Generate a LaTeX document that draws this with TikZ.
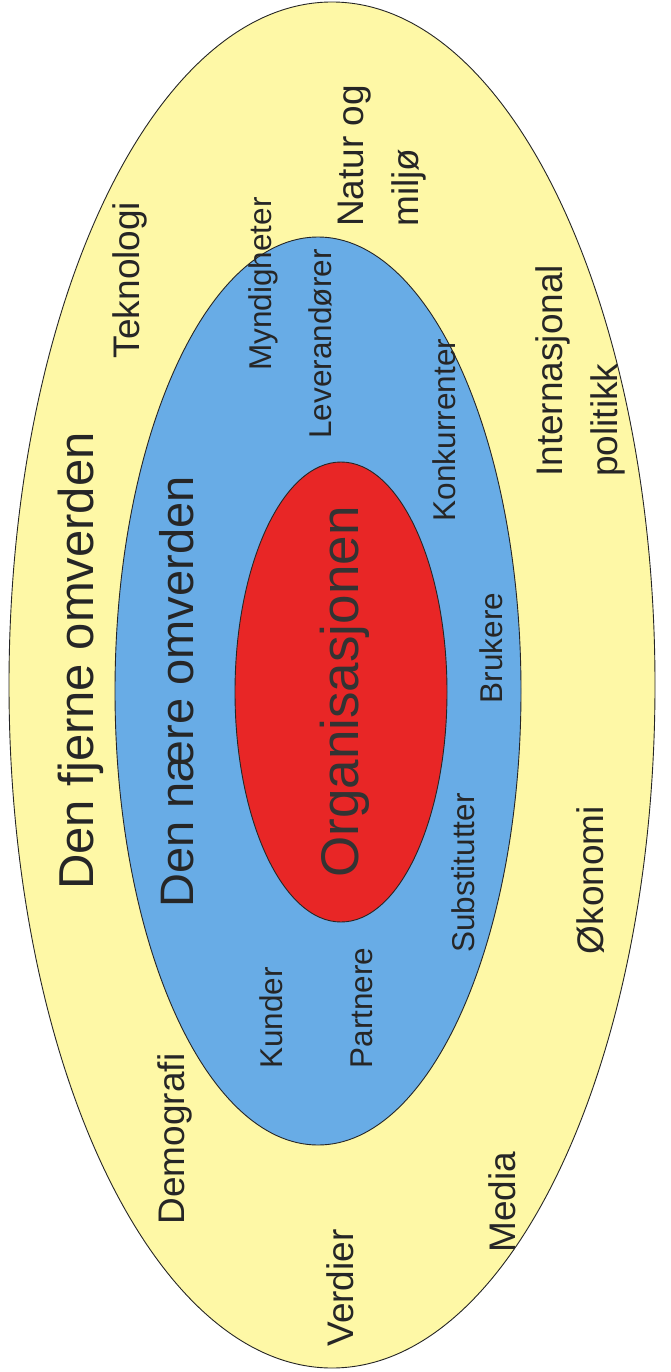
\documentclass[tikz,border=0pt]{standalone}
\usepackage{fontspec}
\setmainfont{Liberation Sans}
\usetikzlibrary{positioning}

\definecolor{farfill}{RGB}{254,248,166}
\definecolor{nearfill}{RGB}{104,172,230}
\definecolor{orgfill}{RGB}{232,38,38}

\begin{document}
\begin{tikzpicture}[x=1pt, y=-1pt,
  zone/.style={draw=black!85, line width=0.9pt},
  lab/.style={rotate=90, anchor=base, inner sep=0pt, text=black!85},
  outer/.style={lab, font=\fontsize{37}{55}\selectfont},
  inner/.style={lab, font=\fontsize{31.5}{38}\selectfont},
  big/.style={lab, font=\fontsize{48}{56}\selectfont},
]
\useasboundingbox (0,0) rectangle (670,1372);

% ====== the three zones ======
\draw[zone, fill=farfill]  (332,685) ellipse [x radius=323, y radius=683];
\draw[zone, fill=nearfill] (318,691) ellipse [x radius=203, y radius=454];
\draw[zone, fill=orgfill]  (341,692) ellipse [x radius=106, y radius=230];

% ====== headings ======
\node[big, font=\fontsize{49}{56}\selectfont] (fjern) at (93,661) {Den fjerne omverden};
\node[big, font=\fontsize{47}{56}\selectfont] (naer)  at (193,692) {Den nære omverden};
\node[big, font=\fontsize{53}{60}\selectfont, text=black!80] (org) at (358,692) {Organisasjonen};

% ====== far environment ======
\node[outer] (tek)  at (139,280)  {Teknologi};
\node[outer, align=left, anchor=base west] (natur) at (418,227) {Natur og\\miljø};
\node[outer, align=left, anchor=base west] (intpol) at (617,477) {Internasjonal\\politikk};
\node[outer] (okon) at (603,880)  {Økonomi};
\node[outer] (demo) at (184,1139) {Demografi};
\node[outer] (media) at (515,1202) {Media};
\node[outer] (verd) at (353,1288) {Verdier};

% ====== near environment ======
\node[inner] (mynd) at (271,284)  {Myndigheter};
\node[inner] (lev)  at (331,344)  {Leverandører};
\node[inner] (konk) at (455,430)  {Konkurrenter};
\node[inner] (bruk) at (502,648)  {Brukere};
\node[inner] (subs) at (474,873)  {Substitutter};
\node[inner] (kund) at (282,1018) {Kunder};
\node[inner] (part) at (372,1008) {Partnere};

\end{tikzpicture}
\end{document}
